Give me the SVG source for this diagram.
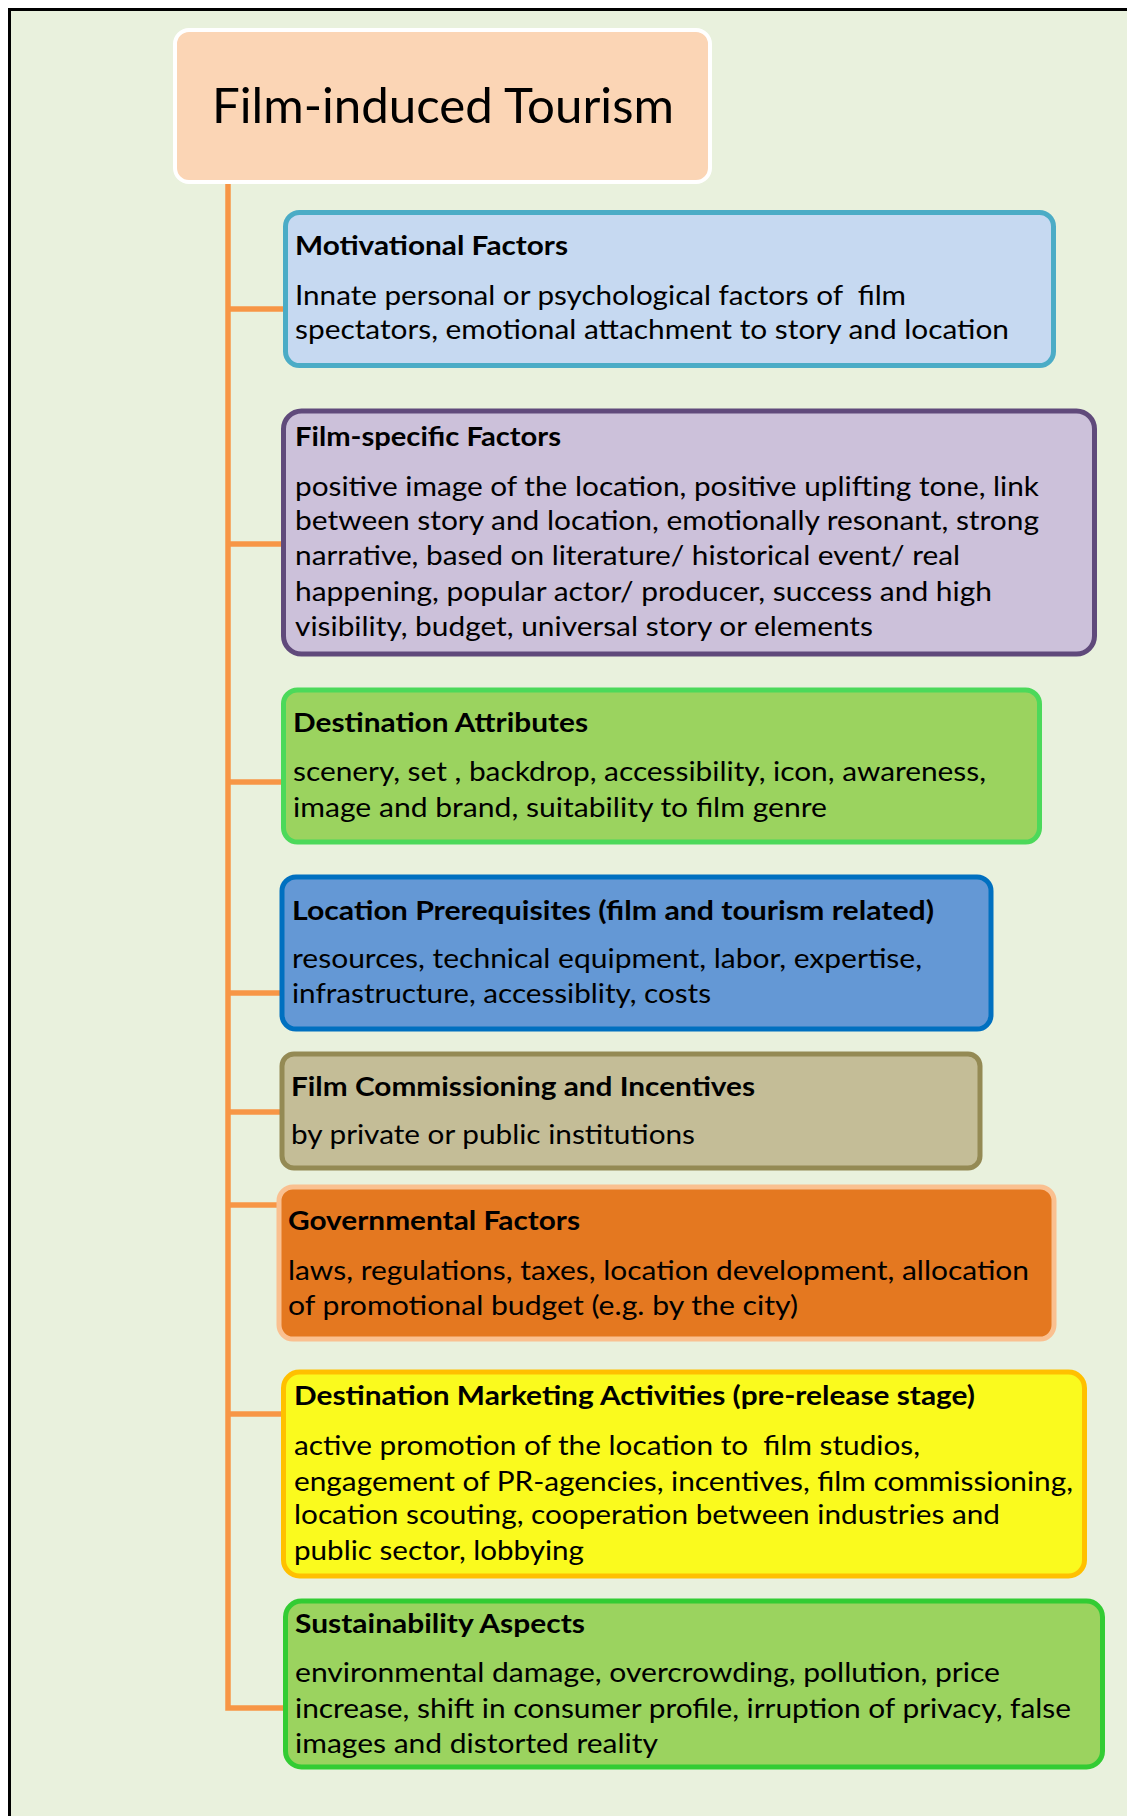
<svg xmlns="http://www.w3.org/2000/svg" width="1127" height="1816" viewBox="0 0 1127 1816">
<style>
.t{font-family:Lato,"Open Sans","Liberation Sans",sans-serif;fill:#000}
.h{font-size:26px;font-weight:bold}
.b{font-size:27px}
.pre{white-space:pre}
.box{stroke-width:5}
.conn{stroke:#F79646;stroke-width:5.5;fill:none}
</style>
<rect x="0" y="0" width="1127" height="1816" fill="#fff"/>
<rect x="9" y="9" width="1118" height="1807" fill="#E9F1DD"/>
<path d="M9.5 1816 V9.5 H1127" fill="none" stroke="#000" stroke-width="3"/>

<g id="connectors">
<path class="conn" d="M228 182 V1708 H286"/>
<path class="conn" d="M228 309 H286"/>
<path class="conn" d="M228 544 H284"/>
<path class="conn" d="M228 782 H284"/>
<path class="conn" d="M228 993 H282"/>
<path class="conn" d="M228 1112 H282"/>
<path class="conn" d="M228 1205 H279"/>
<path class="conn" d="M228 1414 H284"/>
</g>

<g id="title">
<rect x="175" y="30" width="535" height="152" rx="14" fill="#FBD5B5" stroke="#fff" stroke-width="4"/>
<text class="t" x="212" y="123" font-size="48" textLength="462" lengthAdjust="spacingAndGlyphs">Film-induced Tourism</text>
</g>

<g id="motivational">
<rect class="box" x="285.5" y="212.5" width="768" height="153" rx="14" fill="#C6D9F1" stroke="#4BACC6"/>
<text class="t h" x="295" y="255" textLength="273" lengthAdjust="spacingAndGlyphs">Motivational Factors</text>
<text class="t b pre" x="295" y="305" textLength="611" lengthAdjust="spacingAndGlyphs" xml:space="preserve">Innate personal or psychological factors of  film</text>
<text class="t b" x="295" y="339" textLength="714" lengthAdjust="spacingAndGlyphs">spectators, emotional attachment to story and location</text>
</g>

<g id="film-specific">
<rect class="box" x="283.5" y="411" width="811" height="243" rx="18" fill="#CCC1DA" stroke="#604A7B"/>
<text class="t h" x="295" y="446" textLength="266" lengthAdjust="spacingAndGlyphs">Film-specific Factors</text>
<text class="t b" x="295" y="496" textLength="744" lengthAdjust="spacingAndGlyphs">positive image of the location, positive uplifting tone, link</text>
<text class="t b" x="295" y="530" textLength="744" lengthAdjust="spacingAndGlyphs">between story and location, emotionally resonant, strong</text>
<text class="t b" x="295" y="565" textLength="665" lengthAdjust="spacingAndGlyphs">narrative, based on literature/ historical event/ real</text>
<text class="t b" x="295" y="601" textLength="697" lengthAdjust="spacingAndGlyphs">happening, popular actor/ producer, success and high</text>
<text class="t b" x="295" y="636" textLength="578" lengthAdjust="spacingAndGlyphs">visibility, budget, universal story or elements</text>
</g>

<g id="destination-attributes">
<rect class="box" x="283.5" y="690" width="756" height="152" rx="14" fill="#9BD35F" stroke="#4CD95A"/>
<text class="t h" x="293" y="732" textLength="295" lengthAdjust="spacingAndGlyphs">Destination Attributes</text>
<text class="t b" x="293" y="781" textLength="693" lengthAdjust="spacingAndGlyphs">scenery, set , backdrop, accessibility, icon, awareness,</text>
<text class="t b" x="293" y="817" textLength="534" lengthAdjust="spacingAndGlyphs">image and brand, suitability to film genre</text>
</g>

<g id="location-prerequisites">
<rect class="box" x="282" y="877" width="709" height="152" rx="14" fill="#6498D5" stroke="#0070C0"/>
<text class="t h" x="292" y="920" textLength="642" lengthAdjust="spacingAndGlyphs">Location Prerequisites (film and tourism related)</text>
<text class="t b" x="292" y="968" textLength="630" lengthAdjust="spacingAndGlyphs">resources, technical equipment, labor, expertise,</text>
<text class="t b" x="292" y="1003" textLength="419" lengthAdjust="spacingAndGlyphs">infrastructure, accessiblity, costs</text>
</g>

<g id="film-commissioning">
<rect class="box" x="282" y="1054" width="698" height="114" rx="12" fill="#C4BD97" stroke="#948A54"/>
<text class="t h" x="291" y="1096" textLength="464" lengthAdjust="spacingAndGlyphs">Film Commissioning and Incentives</text>
<text class="t b" x="291" y="1144" textLength="404" lengthAdjust="spacingAndGlyphs">by private or public institutions</text>
</g>

<g id="governmental">
<rect class="box" x="279" y="1187" width="775" height="152" rx="14" fill="#E47820" stroke="#FAC090"/>
<text class="t h" x="288" y="1230" textLength="292" lengthAdjust="spacingAndGlyphs">Governmental Factors</text>
<text class="t b" x="288" y="1280" textLength="741" lengthAdjust="spacingAndGlyphs">laws, regulations, taxes, location development, allocation</text>
<text class="t b" x="288" y="1315" textLength="510" lengthAdjust="spacingAndGlyphs">of promotional budget (e.g. by the city)</text>
</g>

<g id="destination-marketing">
<rect class="box" x="283.5" y="1372" width="801" height="204" rx="16" fill="#FAFA1E" stroke="#FFC000"/>
<text class="t h" x="294" y="1405" textLength="681" lengthAdjust="spacingAndGlyphs">Destination Marketing Activities (pre-release stage)</text>
<text class="t b pre" x="294" y="1455" textLength="626" lengthAdjust="spacingAndGlyphs" xml:space="preserve">active promotion of the location to  film studios,</text>
<text class="t b" x="294" y="1491" textLength="779" lengthAdjust="spacingAndGlyphs">engagement of PR-agencies, incentives, film commissioning,</text>
<text class="t b" x="294" y="1524" textLength="706" lengthAdjust="spacingAndGlyphs">location scouting, cooperation between industries and</text>
<text class="t b" x="294" y="1560" textLength="290" lengthAdjust="spacingAndGlyphs">public sector, lobbying</text>
</g>

<g id="sustainability">
<rect class="box" x="285.5" y="1601" width="817" height="166" rx="16" fill="#9BD35F" stroke="#33CC33"/>
<text class="t h" x="295" y="1633" textLength="290" lengthAdjust="spacingAndGlyphs">Sustainability Aspects</text>
<text class="t b" x="295" y="1682" textLength="705" lengthAdjust="spacingAndGlyphs">environmental damage, overcrowding, pollution, price</text>
<text class="t b" x="295" y="1718" textLength="776" lengthAdjust="spacingAndGlyphs">increase, shift in consumer profile, irruption of privacy, false</text>
<text class="t b" x="295" y="1753" textLength="363" lengthAdjust="spacingAndGlyphs">images and distorted reality</text>
</g>
</svg>
